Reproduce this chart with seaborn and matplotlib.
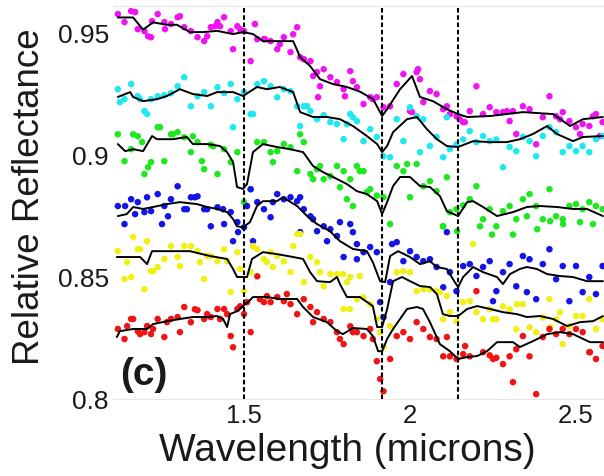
import matplotlib
matplotlib.use("Agg")
import matplotlib.pyplot as plt
import pandas as pd
import seaborn as sns

# ---------------- data ----------------
wavelength = [1.12, 1.14, 1.16, 1.18, 1.20, 1.22, 1.24, 1.26, 1.28, 1.30,
              1.32, 1.34, 1.36, 1.38, 1.40, 1.42, 1.44, 1.46, 1.48, 1.50,
              1.52, 1.54, 1.56, 1.58, 1.60, 1.62, 1.64, 1.66, 1.68, 1.70,
              1.72, 1.74, 1.76, 1.78, 1.80, 1.82, 1.84, 1.86, 1.88, 1.90,
              1.92, 1.94, 1.96, 1.98, 2.00, 2.02, 2.04, 2.06, 2.08, 2.10,
              2.12, 2.14, 2.16, 2.18, 2.20, 2.22, 2.24, 2.26, 2.28, 2.30,
              2.32, 2.34, 2.36, 2.38, 2.40, 2.42, 2.44, 2.46, 2.48, 2.50,
              2.52, 2.54, 2.56, 2.58]

magenta_y = [0.9574, 0.9541, 0.9586, 0.9512, 0.9504, 0.9479, 0.9574, 0.9541, 0.9533, 0.9561,
             0.9520, 0.9504, 0.9479, 0.9463, 0.9520, 0.9541, 0.9561, 0.9504, 0.9524, 0.9504,
             0.9381, 0.9471, 0.9471, 0.9463, 0.9430, 0.9479, 0.9418, 0.9520, 0.9389, 0.9381,
             0.9336, 0.9348, 0.9315, 0.9295, 0.9266, 0.9340, 0.9274, 0.9205, 0.9233, 0.9233,
             0.9192, 0.9196, 0.9287, 0.9328, 0.9176, 0.9336, 0.9213, 0.9258, 0.9246, 0.9184,
             0.9164, 0.9155, 0.9131, 0.9176, 0.9278, 0.9164, 0.9192, 0.9172, 0.9172, 0.9135,
             0.9082, 0.9196, 0.9184, 0.9040, 0.9151, 0.9237, 0.9155, 0.9172, 0.9135, 0.9110,
             0.9123, 0.9115, 0.9164, 0.9131]
magenta_extra_x = [1.172, 1.211, 1.223, 1.262, 1.307, 1.389, 1.413, 1.428, 1.467, 1.488,
                   1.533, 1.563, 1.608, 1.648, 1.669, 1.708, 1.729, 1.723, 1.804, 1.828,
                   1.888, 2.024, 2.030, 2.111, 2.150, 2.165, 2.292, 2.310, 2.452, 2.512,
                   2.551, 2.572, 2.006]
magenta_extra_y = [0.9582, 0.9483, 0.9545, 0.9512, 0.9565, 0.9483, 0.9524, 0.9524, 0.9430, 0.9512,
                   0.9533, 0.9471, 0.9450, 0.9491, 0.9397, 0.9320, 0.9278, 0.9233, 0.9237, 0.9299,
                   0.9225, 0.9348, 0.9307, 0.9196, 0.9143, 0.9131, 0.9176, 0.9176, 0.9143, 0.9082,
                   0.9155, 0.9074, 0.9172]
magenta_line_x = [1.120, 1.166, 1.196, 1.226, 1.268, 1.298, 1.337, 1.377, 1.419, 1.467,
                  1.497, 1.527, 1.557, 1.587, 1.648, 1.669, 1.699, 1.729, 1.768, 1.810,
                  1.849, 1.889, 1.916, 1.931, 1.970, 2.006, 2.030, 2.069, 2.111, 2.145,
                  2.172, 2.241, 2.340, 2.431, 2.482, 2.521, 2.581]
magenta_line_y = [0.9560, 0.9560, 0.9510, 0.9540, 0.9530, 0.9530, 0.9500, 0.9500, 0.9505, 0.9492,
                  0.9500, 0.9492, 0.9463, 0.9463, 0.9463, 0.9398, 0.9361, 0.9307, 0.9287, 0.9275,
                  0.9256, 0.9225, 0.9156, 0.9184, 0.9266, 0.9320, 0.9234, 0.9217, 0.9184, 0.9164,
                  0.9152, 0.9156, 0.9172, 0.9164, 0.9115, 0.9143, 0.9152]

cyan_y = [0.9266, 0.9225, 0.9287, 0.9237, 0.9176, 0.9225, 0.9237, 0.9241, 0.9250, 0.9278,
          0.9315, 0.9196, 0.9237, 0.9254, 0.9196, 0.9274, 0.9250, 0.9287, 0.9225, 0.9254,
          0.9164, 0.9287, 0.9299, 0.9278, 0.9233, 0.9266, 0.9258, 0.9196, 0.9196, 0.9176,
          0.9143, 0.9160, 0.9131, 0.9123, 0.9061, 0.9164, 0.9135, 0.9053, 0.9102, 0.9070,
          0.8991, 0.8987, 0.9143, 0.9053, 0.9192, 0.9155, 0.9143, 0.9033, 0.9070, 0.8987,
          0.9020, 0.9040, 0.9060, 0.9094, 0.9049, 0.9074, 0.9053, 0.9060, 0.8946, 0.9029,
          0.9012, 0.9070, 0.9053, 0.8991, 0.9074, 0.9110, 0.9090, 0.9008, 0.9033, 0.9012,
          0.9033, 0.9008, 0.9061, 0.9074]
cyan_extra_x = [1.126, 1.187, 1.208, 1.467, 1.527, 1.669, 1.690, 1.810, 1.828, 2.030, 2.111]
cyan_extra_y = [0.9213, 0.9225, 0.9164, 0.9110, 0.9164, 0.9115, 0.9196, 0.9123, 0.9151, 0.9008, 0.9151]
cyan_line_x = [1.120, 1.157, 1.166, 1.196, 1.238, 1.268, 1.307, 1.346, 1.389, 1.419,
               1.467, 1.497, 1.539, 1.569, 1.608, 1.648, 1.669, 1.708, 1.750, 1.789,
               1.828, 1.870, 1.901, 1.916, 1.931, 1.949, 1.991, 2.021, 2.051, 2.081,
               2.111, 2.145, 2.190, 2.241, 2.292, 2.331, 2.370, 2.413, 2.443, 2.491,
               2.521, 2.581]
cyan_line_y = [0.9234, 0.9254, 0.9234, 0.9217, 0.9225, 0.9238, 0.9266, 0.9246, 0.9238, 0.9254,
               0.9254, 0.9238, 0.9275, 0.9266, 0.9275, 0.9254, 0.9172, 0.9152, 0.9152, 0.9143,
               0.9115, 0.9074, 0.9041, 0.9008, 0.9033, 0.9090, 0.9143, 0.9152, 0.9102, 0.9061,
               0.9033, 0.9029, 0.9053, 0.9049, 0.9049, 0.9061, 0.9082, 0.9115, 0.9082, 0.9053,
               0.9070, 0.9074]

green_y = [0.9081, 0.8971, 0.9020, 0.9073, 0.8918, 0.8967, 0.9110, 0.8971, 0.9081, 0.9090,
           0.9069, 0.9008, 0.9049, 0.8938, 0.9038, 0.8918, 0.9020, 0.8967, 0.9008, 0.8803,
           0.8856, 0.9049, 0.9049, 0.9008, 0.9012, 0.9041, 0.9028, 0.8930, 0.9049, 0.8918,
           0.8938, 0.8897, 0.8910, 0.8951, 0.8930, 0.8897, 0.8951, 0.8930, 0.8856, 0.8830,
           0.8823, 0.8713, 0.8951, 0.8930, 0.8823, 0.8959, 0.8868, 0.8889, 0.8848, 0.8704,
           0.8762, 0.8774, 0.8790, 0.8815, 0.8868, 0.8733, 0.8774, 0.8704, 0.8766, 0.8787,
           0.8733, 0.8815, 0.8836, 0.8787, 0.8733, 0.8856, 0.8745, 0.8733, 0.8787, 0.8795,
           0.8774, 0.8803, 0.8787, 0.8774]
green_extra_x = [1.166, 1.193, 1.211, 1.247, 1.286, 1.346, 1.373, 1.407, 1.587, 1.669,
                 1.708, 1.729, 1.789, 1.810, 1.828, 1.870, 1.991, 2.111, 2.099, 2.142,
                 2.211, 2.247, 2.310, 2.383, 2.422, 2.461, 2.512, 2.551, 2.352, 1.849]
green_extra_y = [0.9081, 0.9049, 0.8946, 0.9110, 0.9081, 0.9073, 0.8971, 0.9032, 0.8967, 0.9081,
                 0.8897, 0.8951, 0.8864, 0.8815, 0.8787, 0.8844, 0.8959, 0.8905, 0.8704, 0.8684,
                 0.8704, 0.8670, 0.8670, 0.8692, 0.8725, 0.8713, 0.8721, 0.8713, 0.8745, 0.8930]
green_line_x = [1.120, 1.142, 1.166, 1.196, 1.223, 1.238, 1.286, 1.328, 1.346, 1.389,
                1.428, 1.449, 1.467, 1.479, 1.497, 1.509, 1.527, 1.557, 1.599, 1.639,
                1.678, 1.708, 1.738, 1.768, 1.810, 1.840, 1.870, 1.901, 1.916, 1.931,
                1.949, 1.970, 2.000, 2.030, 2.060, 2.090, 2.111, 2.145, 2.172, 2.190,
                2.220, 2.262, 2.310, 2.352, 2.392, 2.443, 2.491, 2.533, 2.581]
green_line_y = [0.9041, 0.9012, 0.9020, 0.9012, 0.9074, 0.9061, 0.9061, 0.9070, 0.9041, 0.9041,
                0.9033, 0.9008, 0.8967, 0.8865, 0.8857, 0.8877, 0.9008, 0.9041, 0.9029, 0.9020,
                0.9008, 0.8951, 0.8926, 0.8906, 0.8877, 0.8848, 0.8836, 0.8807, 0.8754, 0.8803,
                0.8869, 0.8906, 0.8906, 0.8869, 0.8865, 0.8828, 0.8766, 0.8746, 0.8803, 0.8807,
                0.8783, 0.8746, 0.8762, 0.8783, 0.8787, 0.8783, 0.8775, 0.8775, 0.8746]

blue_y = [0.8787, 0.8713, 0.8815, 0.8803, 0.8762, 0.8766, 0.8836, 0.8787, 0.8815, 0.8868,
          0.8774, 0.8823, 0.8827, 0.8774, 0.8704, 0.8782, 0.8713, 0.8762, 0.8721, 0.8700,
          0.8856, 0.8803, 0.8774, 0.8741, 0.8836, 0.8815, 0.8823, 0.8807, 0.8774, 0.8745,
          0.8684, 0.8704, 0.8692, 0.8664, 0.8578, 0.8713, 0.8631, 0.8598, 0.8619, 0.8598,
          0.8331, 0.8475, 0.8639, 0.8561, 0.8602, 0.8578, 0.8561, 0.8569, 0.8537, 0.8454,
          0.8516, 0.8438, 0.8541, 0.8549, 0.8500, 0.8537, 0.8561, 0.8438, 0.8516, 0.8549,
          0.8458, 0.8582, 0.8569, 0.8405, 0.8549, 0.8610, 0.8487, 0.8541, 0.8397, 0.8541,
          0.8434, 0.8496, 0.8426, 0.8541]
blue_extra_x = [1.142, 1.172, 1.208, 1.253, 1.271, 1.328, 1.352, 1.389, 1.437, 1.467,
                1.482, 1.509, 1.527, 1.587, 1.669, 1.669, 1.708, 1.750, 1.789, 1.828,
                1.840, 1.910, 1.946, 2.111, 2.250, 2.352]
blue_extra_y = [0.8787, 0.8754, 0.8823, 0.8713, 0.8745, 0.8774, 0.8823, 0.8774, 0.8774, 0.8643,
                0.8680, 0.8787, 0.8643, 0.8803, 0.8823, 0.8680, 0.8733, 0.8643, 0.8721, 0.8680,
                0.8569, 0.8393, 0.8631, 0.8680, 0.8397, 0.8434]
blue_line_x = [1.120, 1.147, 1.166, 1.196, 1.226, 1.268, 1.307, 1.358, 1.389, 1.419,
               1.449, 1.467, 1.479, 1.497, 1.518, 1.539, 1.557, 1.599, 1.617, 1.660,
               1.690, 1.720, 1.759, 1.789, 1.828, 1.870, 1.888, 1.910, 1.925, 1.940,
               1.964, 2.000, 2.030, 2.060, 2.081, 2.111, 2.135, 2.145, 2.160, 2.190,
               2.220, 2.262, 2.280, 2.301, 2.331, 2.352, 2.382, 2.413, 2.452, 2.491,
               2.533, 2.581]
blue_line_y = [0.8746, 0.8754, 0.8783, 0.8775, 0.8783, 0.8795, 0.8803, 0.8795, 0.8783, 0.8775,
               0.8762, 0.8734, 0.8704, 0.8700, 0.8721, 0.8787, 0.8807, 0.8807, 0.8823, 0.8787,
               0.8746, 0.8713, 0.8684, 0.8643, 0.8611, 0.8602, 0.8557, 0.8479, 0.8475, 0.8582,
               0.8602, 0.8578, 0.8549, 0.8561, 0.8537, 0.8529, 0.8475, 0.8455, 0.8496, 0.8537,
               0.8516, 0.8496, 0.8467, 0.8508, 0.8529, 0.8537, 0.8529, 0.8508, 0.8500, 0.8496,
               0.8479, 0.8479]

yellow_y = [0.8602, 0.8488, 0.8496, 0.8610, 0.8446, 0.8520, 0.8537, 0.8570, 0.8623, 0.8578,
            0.8623, 0.8623, 0.8602, 0.8488, 0.8582, 0.8561, 0.8610, 0.8434, 0.8598, 0.8438,
            0.8516, 0.8610, 0.8569, 0.8598, 0.8582, 0.8560, 0.8516, 0.8672, 0.8475, 0.8578,
            0.8557, 0.8458, 0.8508, 0.8508, 0.8365, 0.8496, 0.8405, 0.8413, 0.8385, 0.8324,
            0.8209, 0.8295, 0.8516, 0.8520, 0.8516, 0.8438, 0.8446, 0.8446, 0.8438, 0.8323,
            0.8352, 0.8315, 0.8393, 0.8397, 0.8352, 0.8323, 0.8364, 0.8323, 0.8376, 0.8364,
            0.8282, 0.8385, 0.8290, 0.8270, 0.8330, 0.8405, 0.8323, 0.8221, 0.8295, 0.8336,
            0.8336, 0.8405, 0.8282, 0.8323]
yellow_extra_x = [1.148, 1.166, 1.187, 1.208, 1.226, 1.307, 1.367, 1.389, 1.449, 1.488,
                  1.527, 1.569, 1.587, 1.648, 1.669, 1.729, 1.798, 1.810, 1.819, 1.849,
                  1.910, 2.090, 2.111, 2.190, 2.250, 2.322, 2.452, 2.422]
yellow_extra_y = [0.8557, 0.8660, 0.8610, 0.8643, 0.8520, 0.8541, 0.8557, 0.8582, 0.8561, 0.8529,
                  0.8623, 0.8557, 0.8537, 0.8623, 0.8672, 0.8516, 0.8508, 0.8475, 0.8365, 0.8500,
                  0.8270, 0.8434, 0.8418, 0.8631, 0.8323, 0.8385, 0.8352, 0.8290]
yellow_line_x = [1.117, 1.187, 1.208, 1.223, 1.307, 1.337, 1.398, 1.449, 1.467, 1.479,
                 1.509, 1.524, 1.557, 1.599, 1.648, 1.678, 1.699, 1.720, 1.759, 1.780,
                 1.789, 1.810, 1.849, 1.888, 1.901, 1.916, 1.931, 1.949, 1.976, 2.000,
                 2.030, 2.060, 2.081, 2.099, 2.120, 2.145, 2.172, 2.202, 2.241, 2.280,
                 2.322, 2.352, 2.392, 2.431, 2.473, 2.512, 2.551, 2.581]
yellow_line_y = [0.8578, 0.8578, 0.8549, 0.8602, 0.8602, 0.8602, 0.8582, 0.8570, 0.8529, 0.8496,
                 0.8496, 0.8570, 0.8598, 0.8590, 0.8578, 0.8570, 0.8516, 0.8479, 0.8475, 0.8496,
                 0.8467, 0.8414, 0.8414, 0.8377, 0.8291, 0.8291, 0.8364, 0.8479, 0.8496, 0.8479,
                 0.8459, 0.8455, 0.8426, 0.8344, 0.8336, 0.8336, 0.8365, 0.8377, 0.8365, 0.8352,
                 0.8344, 0.8332, 0.8336, 0.8324, 0.8295, 0.8311, 0.8315, 0.8336]

red_y = [0.8283, 0.8242, 0.8324, 0.8274, 0.8270, 0.8262, 0.8324, 0.8250, 0.8324, 0.8332,
         0.8373, 0.8311, 0.8360, 0.8324, 0.8332, 0.8365, 0.8365, 0.8254, 0.8365, 0.8344,
         0.8270, 0.8499, 0.8393, 0.8393, 0.8414, 0.8397, 0.8385, 0.8344, 0.8405, 0.8373,
         0.8352, 0.8324, 0.8311, 0.8270, 0.8221, 0.8294, 0.8270, 0.8254, 0.8283, 0.8151,
         0.8028, 0.8160, 0.8254, 0.8270, 0.8242, 0.8311, 0.8283, 0.8250, 0.8242, 0.8171,
         0.8171, 0.8160, 0.8180, 0.8171, 0.8438, 0.8188, 0.8175, 0.8165, 0.8139, 0.8171,
         0.8200, 0.8254, 0.8171, 0.8016, 0.8250, 0.8283, 0.8262, 0.8283, 0.8262, 0.8283,
         0.8270, 0.8188, 0.8160, 0.8213]
red_extra_x = [1.148, 1.166, 1.187, 1.208, 1.226, 1.268, 1.307, 1.352, 1.389, 1.428,
               1.449, 1.467, 1.488, 1.509, 1.548, 1.569, 1.629, 1.708, 1.789, 1.828,
               1.910, 1.888, 2.111, 2.166, 2.250, 2.310, 2.542]
red_extra_y = [0.8295, 0.8324, 0.8262, 0.8295, 0.8283, 0.8311, 0.8270, 0.8364, 0.8344, 0.8324,
               0.8344, 0.8208, 0.8376, 0.8393, 0.8405, 0.8418, 0.8426, 0.8311, 0.8242, 0.8270,
               0.8078, 0.8242, 0.8250, 0.8213, 0.8160, 0.8065, 0.8188]
red_line_x = [1.117, 1.126, 1.166, 1.208, 1.226, 1.268, 1.307, 1.346, 1.389, 1.419,
              1.437, 1.449, 1.458, 1.479, 1.497, 1.512, 1.527, 1.569, 1.608, 1.660,
              1.678, 1.708, 1.750, 1.780, 1.798, 1.828, 1.870, 1.888, 1.904, 1.916,
              1.931, 1.949, 1.970, 1.991, 2.021, 2.039, 2.060, 2.090, 2.120, 2.145,
              2.172, 2.202, 2.232, 2.262, 2.310, 2.331, 2.370, 2.413, 2.452, 2.491,
              2.542, 2.581]
red_line_y = [0.8250, 0.8274, 0.8283, 0.8283, 0.8303, 0.8315, 0.8324, 0.8332, 0.8332, 0.8336,
              0.8324, 0.8291, 0.8344, 0.8356, 0.8377, 0.8393, 0.8414, 0.8414, 0.8406, 0.8406,
              0.8373, 0.8332, 0.8311, 0.8274, 0.8262, 0.8287, 0.8283, 0.8254, 0.8192, 0.8192,
              0.8242, 0.8283, 0.8324, 0.8365, 0.8373, 0.8365, 0.8311, 0.8221, 0.8192, 0.8160,
              0.8168, 0.8172, 0.8192, 0.8229, 0.8229, 0.8209, 0.8233, 0.8262, 0.8270, 0.8262,
              0.8229, 0.8229]

band_centers = [1.5, 1.915, 2.145]
x_ticks = [1.5, 2.0, 2.5]
x_tick_labels = ["1.5", "2", "2.5"]
y_ticks = [0.80, 0.85, 0.90, 0.95]
y_tick_labels = ["0.8", "0.85", "0.9", "0.95"]

# ---------------- tables ----------------
series = {
    "magenta": (magenta_y, magenta_extra_x, magenta_extra_y, magenta_line_x, magenta_line_y),
    "cyan": (cyan_y, cyan_extra_x, cyan_extra_y, cyan_line_x, cyan_line_y),
    "green": (green_y, green_extra_x, green_extra_y, green_line_x, green_line_y),
    "blue": (blue_y, blue_extra_x, blue_extra_y, blue_line_x, blue_line_y),
    "yellow": (yellow_y, yellow_extra_x, yellow_extra_y, yellow_line_x, yellow_line_y),
    "red": (red_y, red_extra_x, red_extra_y, red_line_x, red_line_y),
}
palette = {"magenta": "#f014f0", "cyan": "#1ee8f0", "green": "#1ee81e",
           "blue": "#1414e6", "yellow": "#f0f014", "red": "#f01414"}

pt_rows, ln_rows = [], []
for name, (ys, ex, ey, lx, ly) in series.items():
    for x, y in zip(wavelength, ys):
        pt_rows.append((name, x, y))
    for x, y in zip(ex, ey):
        pt_rows.append((name, x, y))
    for x, y in zip(lx, ly):
        ln_rows.append((name, x, y))
points = pd.DataFrame(pt_rows, columns=["series", "wl", "refl"])
lines = pd.DataFrame(ln_rows, columns=["series", "wl", "refl"])

# ---------------- plot ----------------
sns.set_theme(style="white")
plt.rcParams["font.family"] = ["Liberation Sans", "DejaVu Sans"]

fig = plt.figure(figsize=(6.04, 4.77), dpi=100)
ax = fig.add_axes([113 / 604, 1 - 400 / 477, 491 / 604, 393 / 477])

sns.scatterplot(data=points, x="wl", y="refl", hue="series", palette=palette,
                s=22, linewidth=0, edgecolor="none", legend=False, ax=ax, zorder=2)
sns.lineplot(data=lines, x="wl", y="refl", units="series", estimator=None,
             sort=False, color="black", linewidth=1.4, ax=ax, zorder=3)
for xv in band_centers:
    ax.axvline(xv, color="black", linewidth=1.5, linestyle=(0, (2.2, 1.3)), zorder=4)

ax.set_xlim(1.1054, 2.5843)
ax.set_ylim(0.7996, 0.9607)
ax.set_xticks(x_ticks)
ax.set_xticklabels(x_tick_labels)
ax.set_yticks(y_ticks)
ax.set_yticklabels(y_tick_labels)
ax.tick_params(axis="both", length=0, colors="#1a1a1a")
ax.tick_params(axis="y", pad=3, labelsize=19)
ax.tick_params(axis="x", pad=3, labelsize=18.5)

for side in ["left", "right"]:
    ax.spines[side].set_visible(False)
for side in ["top", "bottom"]:
    ax.spines[side].set_color("#e6e6e6")
    ax.spines[side].set_linewidth(0.8)

ax.set_xlabel("Wavelength (microns)", fontsize=28, color="#1a1a1a")
ax.set_ylabel("Relative Reflectance", fontsize=26.5, color="#1a1a1a")
ax.xaxis.set_label_coords(0.4766, -0.083)
ax.yaxis.set_label_coords(-0.134, 0.5165)

ax.text(0.014, 0.038, "(c)", transform=ax.transAxes, fontsize=28,
        fontweight="bold", ha="left", va="baseline", color="#1a1a1a", zorder=5)

fig.savefig("out.png", dpi=100)
